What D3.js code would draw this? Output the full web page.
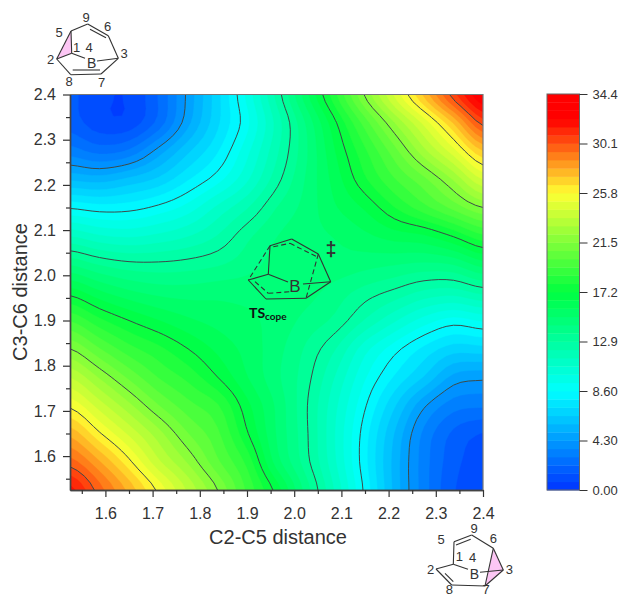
<!DOCTYPE html>
<html>
<head>
<meta charset="utf-8">
<script src="https://d3js.org/d3.v7.min.js"></script>
<style>
  body { margin: 0; background: #fff; }
  svg { display: block; }
  text { font-family: "Liberation Sans", Arial, sans-serif; fill: #333; }
</style>
</head>
<body>
<svg id="chart" width="618" height="597"></svg>
<script>
// bond lengths along each axis (grid nodes), rows run from y=2.4 down to y=1.525
const gridSteps = [1.525, 1.5875, 1.65, 1.7125, 1.775, 1.8375, 1.9, 1.9625, 2.025, 2.0875, 2.15, 2.2125, 2.275, 2.3375, 2.4];
const energyRows = [
  [1.6, 0.9, 0.8, 2.2, 4.5, 6.9, 9.5, 12.4, 15.5, 18.5, 21.6, 24.5, 27.4, 30.5, 33.0],
  [1.8, 1.0, 1.0, 2.4, 4.8, 7.0, 9.1, 11.7, 14.4, 17.1, 19.7, 22.2, 24.6, 27.3, 30.4],
  [3.2, 2.6, 3.0, 4.6, 6.3, 7.8, 9.8, 12.0, 14.2, 16.5, 18.5, 20.5, 22.7, 24.8, 27.2],
  [5.6, 5.4, 5.9, 6.6, 7.8, 9.0, 10.6, 12.6, 14.4, 16.1, 17.8, 19.3, 20.6, 22.3, 24.4],
  [8.5, 8.2, 8.3, 8.8, 9.6, 10.9, 12.1, 13.6, 14.6, 15.7, 16.6, 17.9, 19.1, 20.3, 21.5],
  [11.4, 10.8, 10.6, 10.9, 11.4, 12.2, 13.4, 14.3, 14.8, 15.1, 15.6, 16.1, 16.4, 17.3, 18.5],
  [14.2, 13.5, 13.1, 13.05, 13.2, 13.5, 14.0, 14.6, 14.8, 14.8, 14.6, 14.4, 14.2, 14.4, 15.4],
  [16.9, 15.9, 15.2, 14.8, 14.7, 14.8, 14.8, 14.9, 14.6, 14.0, 13.3, 12.7, 12.0, 11.8, 12.4],
  [19.3, 18.1, 17.2, 16.5, 15.9, 15.5, 15.2, 14.8, 14.1, 13.4, 12.1, 10.85, 9.7, 9.0, 9.4],
  [21.5, 20.1, 18.9, 18.1, 17.2, 16.3, 15.5, 14.6, 13.5, 12.2, 10.3, 8.9, 7.7, 6.8, 6.9],
  [23.6, 22.1, 20.6, 19.3, 18.4, 17.2, 15.8, 14.5, 13.2, 11.4, 9.4, 7.8, 6.4, 4.8, 4.5],
  [25.6, 24.0, 22.4, 20.8, 19.6, 18.7, 16.7, 14.9, 13.0, 10.9, 8.7, 6.55, 4.45, 3.2, 3.0],
  [27.7, 25.9, 24.2, 22.5, 20.8, 19.5, 17.3, 15.0, 13.05, 10.7, 8.2, 5.7, 3.4, 2.0, 1.4],
  [29.7, 28.0, 26.0, 23.8, 22.1, 20.2, 18.4, 15.4, 13.2, 10.8, 8.1, 5.45, 3.2, 1.7, 1.0],
  [31.8, 29.7, 27.7, 25.6, 23.5, 21.5, 19.2, 16.9, 14.0, 11.3, 8.4, 5.5, 3.2, 1.5, 0.9]
];
const contourLevels = [4.3, 8.6, 12.9, 17.2, 21.5, 25.8, 30.1];
const xTicks = [1.6, 1.7, 1.8, 1.9, 2.0, 2.1, 2.2, 2.3, 2.4];
const yTicks = [1.6, 1.7, 1.8, 1.9, 2.0, 2.1, 2.2, 2.3, 2.4];
const minorTicks = [1.55, 1.65, 1.75, 1.85, 1.95, 2.05, 2.15, 2.25, 2.35];
const legendTicks = [0, 4.3, 8.6, 12.9, 17.2, 21.5, 25.8, 30.1, 34.4];
const legendLabels = ["0.00", "4.30", "8.60", "12.9", "17.2", "21.5", "25.8", "30.1", "34.4"];

const bandCount = 48;
const zMax = 34.4;
const bandStep = zMax / bandCount;
const bandLevels = d3.range(bandCount).map(i => i * bandStep);

const color = d3.scaleLinear()
  .domain([0, 8.6, 17.2, 25.8, 32.2, 34.4])
  .range(["#0033ff", "#00ffff", "#00ff40", "#ffff33", "#ff0000", "#ff0000"]);

const svg = d3.select("#chart");

const x = d3.scaleLinear().domain([1.525, 2.4]).range([70, 483]);
const y = d3.scaleLinear().domain([1.525, 2.4]).range([490, 94.5]);

// the measured grid is coarse, resample it (Catmull-Rom) so the contours come out round
const zoomFactor = 4;
const n = gridSteps.length;
const fineN = (n - 1) * zoomFactor + 1;
const stepSize = (gridSteps[1] - gridSteps[0]) / zoomFactor;

function spline(p0, p1, p2, p3, t) {
  return 0.5 * (2 * p1 + (p2 - p0) * t + (2 * p0 - 5 * p1 + 4 * p2 - p3) * t * t + (3 * p1 - p0 - 3 * p2 + p3) * t * t * t);
}
function cell(r, c) {
  return energyRows[Math.max(0, Math.min(n - 1, r))][Math.max(0, Math.min(n - 1, c))];
}
function sample(fr, fc) {
  const r = Math.min(n - 2, Math.floor(fr)), c = Math.min(n - 2, Math.floor(fc));
  const tr = fr - r, tc = fc - c;
  const col = d3.range(-1, 3).map(i =>
    spline(cell(r + i, c - 1), cell(r + i, c), cell(r + i, c + 1), cell(r + i, c + 2), tc));
  return spline(col[0], col[1], col[2], col[3], tr);
}
const flat = [];
for (let j = 0; j < fineN; j++) {
  for (let i = 0; i < fineN; i++) flat.push(sample(j / zoomFactor, i / zoomFactor));
}

// contour grid: node i sits at i + 0.5 in d3.contours coordinates
const toPlot = d3.geoTransform({
  point(px, py) {
    this.stream.point(x(gridSteps[0] + (px - 0.5) * stepSize), y(2.4 - (py - 0.5) * stepSize));
  }
});
const path = d3.geoPath(toPlot);
const contours = d3.contours().size([fineN, fineN]);

svg.append("clipPath").attr("id", "plot-clip").append("rect")
  .attr("x", x.range()[0]).attr("y", y.range()[1])
  .attr("width", x.range()[1] - x.range()[0]).attr("height", y.range()[0] - y.range()[1]);

const plot = svg.append("g").attr("clip-path", "url(#plot-clip)");

plot.selectAll("path.band")
  .data(contours.thresholds(bandLevels)(flat))
  .enter().append("path")
  .attr("class", "band")
  .attr("d", path)
  .attr("fill", d => color(d.value + bandStep / 2))
  .attr("stroke", d => color(d.value + bandStep / 2))
  .attr("stroke-width", 0.4);

plot.selectAll("path.level")
  .data(contours.thresholds(contourLevels)(flat))
  .enter().append("path")
  .attr("class", "level")
  .attr("d", path)
  .attr("fill", "none")
  .attr("stroke", "#3c4a4a")
  .attr("stroke-width", 1);

// axes
function styleAxis(g) {
  g.selectAll("line").attr("stroke", "#333").attr("stroke-width", 1.2);
  g.selectAll("path").attr("stroke", "#444").attr("stroke-width", 1.4);
  g.selectAll("text").attr("font-size", 16);
}

svg.append("g").attr("transform", "translate(0,490)")
  .call(d3.axisBottom(x).tickValues(xTicks).tickFormat(d3.format(".1f")).tickSize(7).tickSizeOuter(0).tickPadding(11))
  .call(styleAxis);
svg.append("g").attr("transform", "translate(0,490)")
  .call(d3.axisBottom(x).tickValues(minorTicks).tickFormat("").tickSize(4).tickSizeOuter(0))
  .call(styleAxis);
svg.append("g").attr("transform", "translate(70,0)")
  .call(d3.axisLeft(y).tickValues(yTicks).tickFormat(d3.format(".1f")).tickSize(7).tickSizeOuter(0).tickPadding(7))
  .call(styleAxis);
svg.append("g").attr("transform", "translate(70,0)")
  .call(d3.axisLeft(y).tickValues(minorTicks).tickFormat("").tickSize(4).tickSizeOuter(0))
  .call(styleAxis);

svg.append("path")
  .attr("d", "M70,94.5H483V490")
  .attr("fill", "none").attr("stroke", "#777").attr("stroke-width", 1.2);

svg.append("text").attr("x", 278).attr("y", 544).attr("text-anchor", "middle")
  .attr("font-size", 20).text("C2-C5 distance");
svg.append("text").attr("transform", "translate(27,292) rotate(-90)").attr("text-anchor", "middle")
  .attr("font-size", 20).text("C3-C6 distance");

// colour legend
const legendX = 547, legendW = 32.5;
const legendY = d3.scaleLinear().domain([0, zMax]).range([490, 94]);

svg.append("g").selectAll("rect")
  .data(bandLevels)
  .enter().append("rect")
  .attr("x", legendX)
  .attr("width", legendW)
  .attr("y", d => legendY(d + bandStep))
  .attr("height", d => legendY(d) - legendY(d + bandStep) + 0.4)
  .attr("fill", d => color(d + bandStep / 2));

svg.append("rect").attr("x", legendX).attr("y", 94).attr("width", legendW).attr("height", 396)
  .attr("fill", "none").attr("stroke", "#666").attr("stroke-width", 1);

const legendAxis = svg.append("g").attr("transform", `translate(${legendX + legendW},0)`)
  .call(d3.axisRight(legendY).tickValues(legendTicks).tickFormat((d, i) => legendLabels[i]).tickSize(8).tickSizeOuter(0).tickPadding(5));
legendAxis.select(".domain").remove();
legendAxis.selectAll("line").attr("stroke", "#333").attr("stroke-width", 1);
legendAxis.selectAll("text").attr("font-size", 13);

// structure sketches (annotation, not data)
function drawBonds(g, bonds, dash) {
  g.selectAll(null).data(bonds).enter().append("line")
    .attr("x1", d => d[0]).attr("y1", d => d[1]).attr("x2", d => d[2]).attr("y2", d => d[3])
    .attr("stroke", "#333").attr("stroke-width", 1.1)
    .attr("stroke-dasharray", dash || null);
}
function drawLabels(g, labels, size) {
  g.selectAll(null).data(labels).enter().append("text")
    .attr("x", d => d[1]).attr("y", d => d[2])
    .attr("text-anchor", "middle").attr("dominant-baseline", "central")
    .attr("font-size", d => d[0] === "B" ? size + 1 : size).text(d => d[0]);
}

const molTop = svg.append("g");
molTop.append("polygon").attr("points", "71,31 71.7,53.3 56.7,59").attr("fill", "#fcc6f4");
drawBonds(molTop, [
  [71, 31, 87.7, 24], [87.7, 24, 108.3, 35.7], [90, 29.3, 106, 37.7], [108.3, 35.7, 118.3, 58.3],
  [118.3, 58.3, 101, 74], [101, 74, 70.7, 74.7], [72.7, 70, 100, 70], [70.7, 74.7, 56.7, 59],
  [56.7, 59, 71, 31], [71, 31, 71.7, 53.3], [71.7, 53.3, 56.7, 59], [71.7, 53.3, 85, 58.3], [97, 61, 118.3, 58.3]
]);
drawLabels(molTop, [
  ["5", 59, 32], ["9", 86, 17], ["6", 107.7, 26], ["1", 76.7, 47], ["4", 89, 47.5], ["3", 124, 53],
  ["2", 50.7, 59], ["B", 91.7, 63], ["8", 69, 81], ["7", 101.7, 82.7]
], 13);

const molBottom = svg.append("g");
molBottom.append("polygon").attr("points", "493.3,548.3 503.3,570 485,586").attr("fill", "#fcc6f4");
drawBonds(molBottom, [
  [454, 541.7, 471.7, 535], [456, 545, 470.7, 539.3], [471.7, 535, 493.3, 548.3], [493.3, 548.3, 503.3, 570],
  [503.3, 570, 485, 586], [485, 586, 451.7, 585], [451.7, 585, 436, 569], [445, 573.3, 453.3, 581.7],
  [454, 541.7, 453.3, 564.3], [453.3, 564.3, 436, 569], [453.3, 564.3, 468, 569.3], [480, 572.3, 503.3, 570],
  [493.3, 548.3, 485, 586]
]);
drawLabels(molBottom, [
  ["5", 441, 539.3], ["9", 474, 528], ["6", 493.3, 538.3], ["1", 459.3, 556.7], ["4", 472.7, 557],
  ["3", 509.3, 569.3], ["2", 430.7, 569], ["B", 474.3, 573.5], ["8", 449.3, 589.5], ["7", 486, 589.5]
], 13);

const molTs = svg.append("g");
drawBonds(molTs, [
  [270, 245.7, 291.7, 239], [291.7, 239, 318.3, 254], [318.3, 254, 330.7, 281.7], [330.7, 281.7, 306, 298.3],
  [306, 298.3, 266, 299], [266, 299, 248.3, 280], [270, 245.7, 268.3, 274.3], [268.3, 274.3, 248.3, 280],
  [268.3, 274.3, 288, 282], [303, 284, 330.7, 281.7]
]);
drawBonds(molTs, [
  [270, 245.7, 248.3, 280], [318.3, 254, 306, 298.3], [273.3, 246.7, 290, 243.3], [290, 243.3, 316.7, 256.7],
  [255, 281.7, 268.3, 293.3], [268.3, 293.3, 300, 291]
], "5,3");
svg.append("text").attr("x", 295).attr("y", 286).attr("text-anchor", "middle").attr("dominant-baseline", "central")
  .attr("font-size", 17).text("B");
svg.append("text").attr("x", 331).attr("y", 249).attr("text-anchor", "middle").attr("dominant-baseline", "central")
  .attr("font-size", 20).attr("font-weight", "bold").text("‡");
const tsLabel = svg.append("text").attr("x", 249).attr("y", 318)
  .attr("font-weight", "bold").attr("font-size", 14).style("font-family", "Lato, sans-serif").style("fill", "#111");
tsLabel.append("tspan").text("TS");
tsLabel.append("tspan").attr("font-size", 10).attr("dy", 2).text("cope");
</script>
</body>
</html>
